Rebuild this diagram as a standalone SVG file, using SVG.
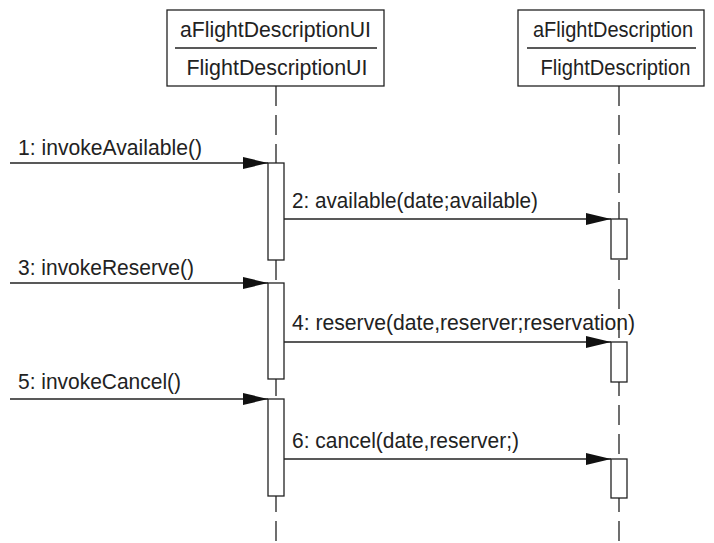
<svg xmlns="http://www.w3.org/2000/svg" width="714" height="543" viewBox="0 0 714 543">
  <style>
    .box { fill: #fff; stroke: #222; stroke-width: 1.3; }
    .line { fill: none; stroke: #222; stroke-width: 1.3; }
    .life { fill: none; stroke: #222; stroke-width: 1.3; stroke-dasharray: 20 9; }
    .act { fill: #fff; stroke: #222; stroke-width: 1.3; }
    .t { font-family: "Liberation Sans", Arial, sans-serif; font-size: 22px; fill: #222; }
    .c { text-anchor: middle; }
  </style>
  <defs>
    <marker id="head" viewBox="0 0 25 12" refX="25" refY="6" markerWidth="25" markerHeight="12" markerUnits="userSpaceOnUse" orient="auto">
      <path d="M0,0 L25,6 L0,12 Z" fill="#111"/>
    </marker>
  </defs>

  <!-- lifelines -->
  <g id="lifelines">
    <line class="life" x1="276" y1="86" x2="276" y2="543"/>
    <line class="life" x1="619" y1="86" x2="619" y2="543"/>
  </g>

  <!-- object: aFlightDescriptionUI -->
  <g id="ui">
    <rect class="box" x="167" y="10" width="217" height="76"/>
    <line class="line" x1="175" y1="48" x2="377" y2="48"/>
    <text class="t c" x="275.5" y="37" textLength="191" lengthAdjust="spacingAndGlyphs">aFlightDescriptionUI</text>
    <text class="t c" x="277" y="75" textLength="181" lengthAdjust="spacingAndGlyphs">FlightDescriptionUI</text>
  </g>

  <!-- object: aFlightDescription -->
  <g id="fd">
    <rect class="box" x="518" y="10" width="186" height="76"/>
    <line class="line" x1="527" y1="48" x2="696" y2="48"/>
    <text class="t c" x="613" y="37" textLength="160" lengthAdjust="spacingAndGlyphs">aFlightDescription</text>
    <text class="t c" x="615.5" y="75" textLength="150" lengthAdjust="spacingAndGlyphs">FlightDescription</text>
  </g>

  <!-- activations -->
  <g id="activations">
    <rect class="act" x="268" y="163" width="16" height="97"/>
    <rect class="act" x="268" y="283" width="16" height="96"/>
    <rect class="act" x="268" y="399" width="16" height="97"/>
    <rect class="act" x="611" y="219" width="16" height="40"/>
    <rect class="act" x="611" y="342" width="16" height="40"/>
    <rect class="act" x="611" y="459" width="16" height="39"/>
  </g>

  <!-- messages -->
  <g id="connectors">
    <line class="line" x1="10" y1="163" x2="268" y2="163" marker-end="url(#head)"/>
    <line class="line" x1="284" y1="219" x2="611" y2="219" marker-end="url(#head)"/>
    <line class="line" x1="10" y1="283" x2="268" y2="283" marker-end="url(#head)"/>
    <line class="line" x1="284" y1="342" x2="611" y2="342" marker-end="url(#head)"/>
    <line class="line" x1="10" y1="399" x2="268" y2="399" marker-end="url(#head)"/>
    <line class="line" x1="284" y1="459" x2="611" y2="459" marker-end="url(#head)"/>
  </g>

  <g id="labels">
    <text class="t" x="18" y="155" textLength="184" lengthAdjust="spacingAndGlyphs">1: invokeAvailable()</text>
    <text class="t" x="292" y="208" textLength="246" lengthAdjust="spacingAndGlyphs">2: available(date;available)</text>
    <text class="t" x="18" y="275" textLength="176" lengthAdjust="spacingAndGlyphs">3: invokeReserve()</text>
    <text class="t" x="292" y="330" textLength="343" lengthAdjust="spacingAndGlyphs">4: reserve(date,reserver;reservation)</text>
    <text class="t" x="18" y="389" textLength="163" lengthAdjust="spacingAndGlyphs">5: invokeCancel()</text>
    <text class="t" x="292" y="448" textLength="227" lengthAdjust="spacingAndGlyphs">6: cancel(date,reserver;)</text>
  </g>
</svg>
